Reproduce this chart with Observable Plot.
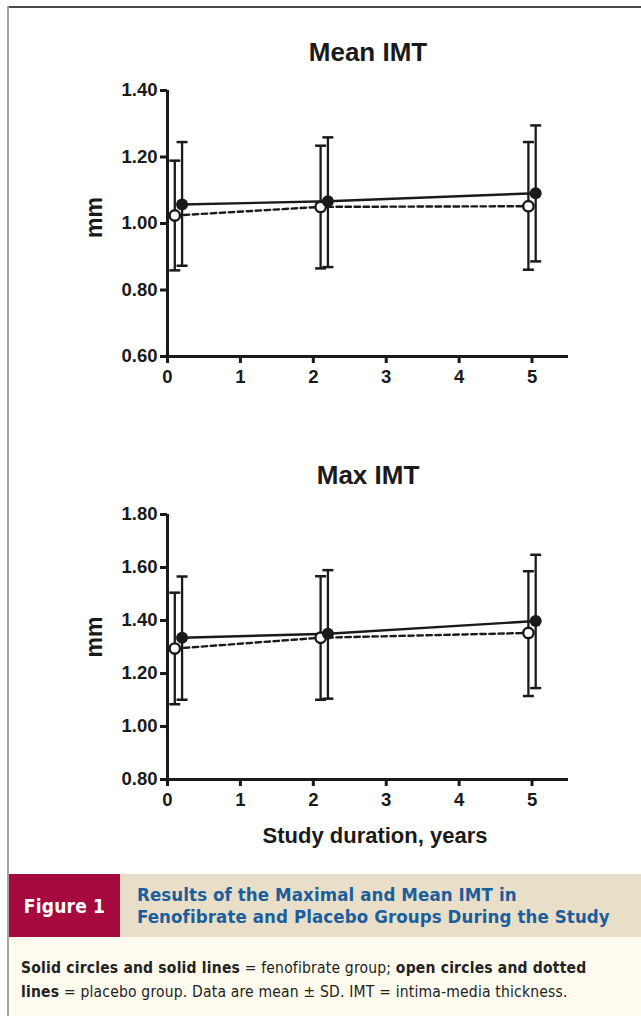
<!DOCTYPE html>
<html>
<head>
<meta charset="utf-8">
<script src="https://cdn.jsdelivr.net/npm/d3@7"></script>
<script src="https://cdn.jsdelivr.net/npm/@observablehq/plot@0.6"></script>
<style>
  html, body { margin: 0; padding: 0; background: #fff; }
  body { width: 641px; height: 1016px; position: relative; overflow: hidden; font-family: "Liberation Sans", Arial, sans-serif; }
  .chart { position: absolute; left: 0; }
  #frame-top { position: absolute; left: 8px; top: 6px; width: 633px; height: 2px; background: #4a4a4a; }
  #frame-left { position: absolute; left: 7px; top: 6px; width: 2px; height: 1010px; background: #a3a3a3; }
  #cap-head { position: absolute; left: 9px; top: 874px; width: 632px; height: 63px; background: #e9dec8; }
  #cap-fig { position: absolute; left: 0; top: 0; width: 111px; height: 63px; background: #a6093d; color: #fff;
             font: bold 19px "Liberation Sans Narrow", "DejaVu Sans Condensed", "Liberation Sans", sans-serif;
             display: flex; align-items: center; justify-content: center; letter-spacing: 0.2px; }
  #cap-title { position: absolute; left: 128px; top: 10px; color: #1b5e9e; font: bold 18.5px/22px "Liberation Sans Narrow", "DejaVu Sans Condensed", sans-serif; letter-spacing: 0.1px; }
  #cap-body { position: absolute; left: 9px; top: 937px; width: 632px; height: 79px; background: #fffbee; }
  #cap-text { position: absolute; left: 12px; top: 19px; color: #222; font: 15.5px/24px "Liberation Sans Narrow", "DejaVu Sans Condensed", sans-serif; letter-spacing: 0.2px; }
</style>
</head>
<body>
<div id="frame-top"></div>
<div id="frame-left"></div>
<div id="chart1" class="chart" style="top:0px"></div>
<div id="chart2" class="chart" style="top:400px"></div>
<div id="cap-head">
  <div id="cap-fig">Figure 1</div>
  <div id="cap-title">Results of the Maximal and Mean IMT in<br>Fenofibrate and Placebo Groups During the Study</div>
</div>
<div id="cap-body">
  <div id="cap-text"><b>Solid circles and solid lines</b> = fenofibrate group; <b>open circles and dotted</b><br><b>lines</b> = placebo group. Data are mean ± SD. IMT = intima-media thickness.</div>
</div>
<script>
// ---- data ----
const xTicks = [0, 1, 2, 3, 4, 5];
const xFeno = [0.2, 2.2, 5.05];      // plotted (offset) study years, fenofibrate
const xPlacebo = [0.1, 2.1, 4.95];   // plotted (offset) study years, placebo

const meanFeno = [1.057, 1.067, 1.091];
const meanFenoLo = [0.873, 0.869, 0.886];
const meanFenoHi = [1.245, 1.259, 1.295];
const meanPlac = [1.024, 1.050, 1.052];
const meanPlacLo = [0.859, 0.865, 0.861];
const meanPlacHi = [1.189, 1.234, 1.245];

const maxFeno = [1.335, 1.350, 1.398];
const maxFenoLo = [1.101, 1.105, 1.145];
const maxFenoHi = [1.566, 1.590, 1.648];
const maxPlac = [1.294, 1.335, 1.353];
const maxPlacLo = [1.084, 1.101, 1.115];
const maxPlacHi = [1.505, 1.567, 1.586];

const meanTicks = [0.6, 0.8, 1.0, 1.2, 1.4];
const maxTicks = [0.8, 1.0, 1.2, 1.4, 1.6, 1.8];

// ---- helpers ----
const rows = (xs, m, lo, hi) => xs.map((x, i) => ({x, y: m[i], lo: lo[i], hi: hi[i]}));
const capSymbol = {
  draw(context, size) {
    const r = Math.sqrt(size / Math.PI);
    context.moveTo(-r, 0);
    context.lineTo(r, 0);
  }
};
const font = "'Liberation Sans', Arial, sans-serif";
const ink = "#1a1a1a";

function chart({title, titleDy, mmDy, feno, plac, yDomain, yTicks, height, marginTop, marginBottom, xLabel}) {
  const marks = [
    Plot.ruleX([0], {strokeWidth: 3, stroke: ink}),
    Plot.ruleY([yDomain[0]], {strokeWidth: 3, stroke: ink}),
    Plot.axisY({ticks: yTicks, tickFormat: d3.format(".2f"), tickSize: 7, tickPadding: 3, strokeWidth: 3, stroke: ink, fill: ink, fontSize: 18.5, fontWeight: "bold", label: null}),
    Plot.axisX({ticks: xTicks, tickFormat: d3.format("d"), tickSize: 7, tickPadding: 6, strokeWidth: 3, stroke: ink, fill: ink, fontSize: 18.5, fontWeight: "bold", label: null}),
    // error bars
    Plot.ruleX(plac, {x: "x", y1: "lo", y2: "hi", strokeWidth: 2.3, stroke: ink}),
    Plot.ruleX(feno, {x: "x", y1: "lo", y2: "hi", strokeWidth: 2.3, stroke: ink}),
    Plot.dot(plac, {x: "x", y: "hi", symbol: capSymbol, r: 5.5, stroke: ink, strokeWidth: 2.5}),
    Plot.dot(plac, {x: "x", y: "lo", symbol: capSymbol, r: 5.5, stroke: ink, strokeWidth: 2.5}),
    Plot.dot(feno, {x: "x", y: "hi", symbol: capSymbol, r: 5.5, stroke: ink, strokeWidth: 2.5}),
    Plot.dot(feno, {x: "x", y: "lo", symbol: capSymbol, r: 5.5, stroke: ink, strokeWidth: 2.5}),
    // lines
    Plot.line(feno, {x: "x", y: "y", stroke: ink, strokeWidth: 2.4}),
    Plot.line(plac, {x: "x", y: "y", stroke: ink, strokeWidth: 2.4, strokeDasharray: "5.5,3.5"}),
    // points
    Plot.dot(plac, {x: "x", y: "y", r: 5.2, fill: "white", stroke: ink, strokeWidth: 2.4}),
    Plot.dot(feno, {x: "x", y: "y", r: 6, fill: ink}),
    // texts
    Plot.text([title], {frameAnchor: "top", lineAnchor: "middle", textAnchor: "middle", dy: titleDy, fontSize: 26, fontWeight: "bold", fill: ink}),
    Plot.text(["mm"], {frameAnchor: "left", lineAnchor: "middle", textAnchor: "middle", dx: -73, dy: mmDy, rotate: -90, fontSize: 23, fontWeight: "bold", fill: ink})
  ];
  if (xLabel) marks.push(Plot.text([xLabel], {frameAnchor: "bottom", lineAnchor: "middle", textAnchor: "middle", dx: 7, dy: 56, fontSize: 22, fontWeight: "bold", fill: ink}));
  return Plot.plot({
    width: 641,
    height,
    marginLeft: 167,
    marginRight: 73,
    marginTop,
    marginBottom,
    x: {domain: [0, 5.5]},
    y: {domain: yDomain},
    style: {fontFamily: font, fontWeight: "bold", fontSize: "18px", color: ink, background: "transparent", overflow: "visible"},
    marks
  });
}

document.getElementById("chart1").append(chart({
  title: "Mean IMT", titleDy: -37.5, mmDy: -6,
  feno: rows(xFeno, meanFeno, meanFenoLo, meanFenoHi),
  plac: rows(xPlacebo, meanPlac, meanPlacLo, meanPlacHi),
  yDomain: [0.6, 1.4], yTicks: meanTicks,
  height: 400, marginTop: 90, marginBottom: 44
}));
document.getElementById("chart2").append(chart({
  title: "Max IMT", titleDy: -39, mmDy: -10,
  feno: rows(xFeno, maxFeno, maxFenoLo, maxFenoHi),
  plac: rows(xPlacebo, maxPlac, maxPlacLo, maxPlacHi),
  yDomain: [0.8, 1.8], yTicks: maxTicks,
  height: 450, marginTop: 114, marginBottom: 71,
  xLabel: "Study duration, years"
}));
</script>
</body>
</html>
